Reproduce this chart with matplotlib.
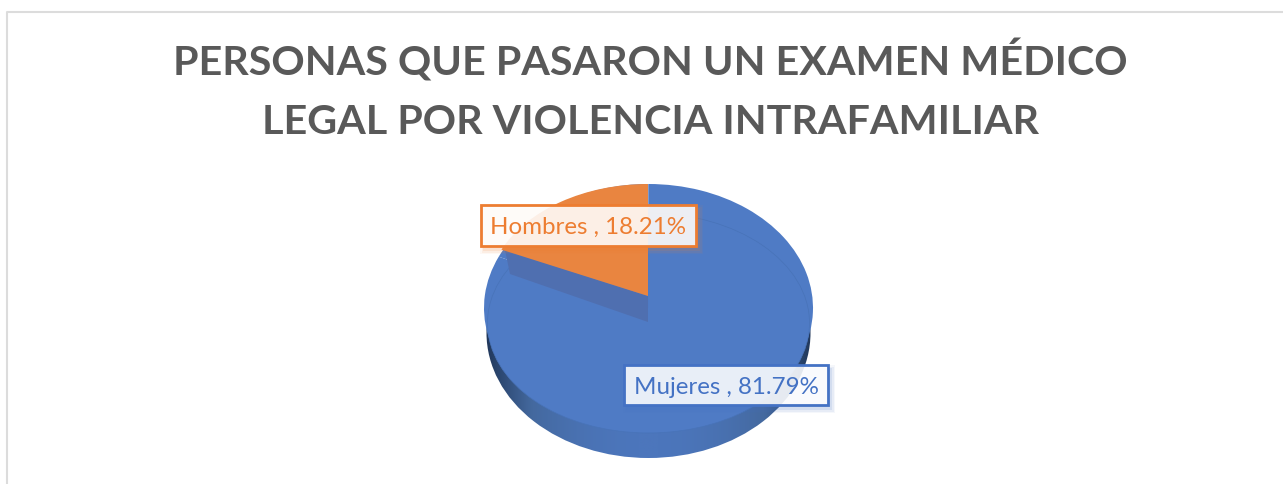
#!/usr/bin/env python

import matplotlib
matplotlib.use('Agg')
import matplotlib.pyplot as plt
from matplotlib.colors import LinearSegmentedColormap
from matplotlib.patches import Ellipse, Polygon, Rectangle
import numpy as np

W, H = 1283, 484

title_lines = ['PERSONAS QUE PASARON UN EXAMEN MÉDICO',
               'LEGAL POR VIOLENCIA INTRAFAMILIAR']
categories = ['Hombres', 'Mujeres']
shares = [18.21, 81.79]

BLUE = '#4f7bc5'
ORANGE = '#e98540'
LABEL_BLUE = '#4472c4'
LABEL_ORANGE = '#ed7d31'
GREY = '#595959'

plt.rcParams['font.family'] = ['Lato', 'DejaVu Sans']

fig = plt.figure(figsize=(W / 100, H / 100), dpi=100, facecolor='white')


def pie_axes(cx, cy, rx, ry, zorder):
    # one axes per ellipse, pie fills it and gets squashed by aspect auto
    ax = fig.add_axes([(cx - rx) / W, 1 - (cy + ry) / H, 2 * rx / W, 2 * ry / H],
                      zorder=zorder)
    ax.patch.set_alpha(0)
    return ax


def draw_pie(ax, colors):
    ax.pie(shares, colors=colors, startangle=90, radius=1, counterclock=True)
    ax.set_aspect('auto')
    ax.set_xlim(-1, 1)
    ax.set_ylim(-1, 1)


# background layer in pixels
bg = fig.add_axes([0, 0, 1, 1], zorder=0)
bg.plot([7, 7, 1283], [H, 12, 12], color='#dcdcdc', lw=1.5)

# side of the disc, dark at the edges and lighter at the bottom
grad = np.abs(np.linspace(-1, 1, 330))[None, :] ** 2
side_cmap = LinearSegmentedColormap.from_list('side', ['#4c76bc', '#44699f', '#1f3557'])
side = bg.imshow(grad, extent=(484, 813, 458, 200), cmap=side_cmap, aspect='auto', zorder=1)
bg.set_xlim(0, W)
bg.set_ylim(H, 0)
bg.axis('off')
clip = Ellipse((648.5, 333), 324, 250, transform=bg.transData, fc='none', ec='none')
bg.add_patch(clip)
side.set_clip_path(clip)

# bevel ring and top face
draw_pie(pie_axes(648.5, 308, 164.5, 124, 2), [BLUE, BLUE])
draw_pie(pie_axes(648.5, 323, 161, 110, 3), [BLUE, BLUE])

top = fig.add_axes([0, 0, 1, 1], zorder=4)
top.set_xlim(0, W)
top.set_ylim(H, 0)
top.axis('off')
top.patch.set_alpha(0)
top.add_patch(Ellipse((648.5, 323), 322, 220, fc='none', ec='#4873b8', lw=0.5, zorder=1))
# inner walls of the pulled out slice
top.add_patch(Polygon([(648, 296), (648, 322), (510, 274), (505, 250)],
                      closed=True, fc='#4f6fb0', ec='none', zorder=2))

# lifted slice, only the first wedge is visible
ax_slice = pie_axes(648, 296, 161, 112, 5)
draw_pie(ax_slice, [ORANGE, 'none'])

# data labels
lab = fig.add_axes([0, 0, 1, 1], zorder=6)
lab.set_xlim(0, W)
lab.set_ylim(H, 0)
lab.axis('off')
lab.patch.set_alpha(0)

boxes = {'Hombres': (481, 205, 215, 41), 'Mujeres': (624, 365, 204, 40)}
label_colors = {'Hombres': LABEL_ORANGE, 'Mujeres': LABEL_BLUE}
for name, share in zip(categories, shares):
    x, y, w, h = boxes[name]
    c = label_colors[name]
    for grow, a in [(8, 0.05), (5, 0.08), (2, 0.12)]:
        lab.add_patch(Rectangle((x + 3 - grow / 2, y + 4 - grow / 2), w + grow, h + grow,
                                fc=c, ec='none', alpha=a))
    lab.add_patch(Rectangle((x, y), w, h, fc=(1, 1, 1, 0.88), ec=c, lw=2))
    lab.text(x + w / 2, y + h / 2 + 2, f'{name} , {share:.2f}%', color=c, fontsize=17.4,
             ha='center', va='center')

# title
for line, yc in zip(title_lines, [61, 122]):
    lab.text(650, yc, line, color=GREY, fontsize=29.7, fontweight='bold',
             ha='center', va='center')

fig.savefig('out.png', dpi=100)
